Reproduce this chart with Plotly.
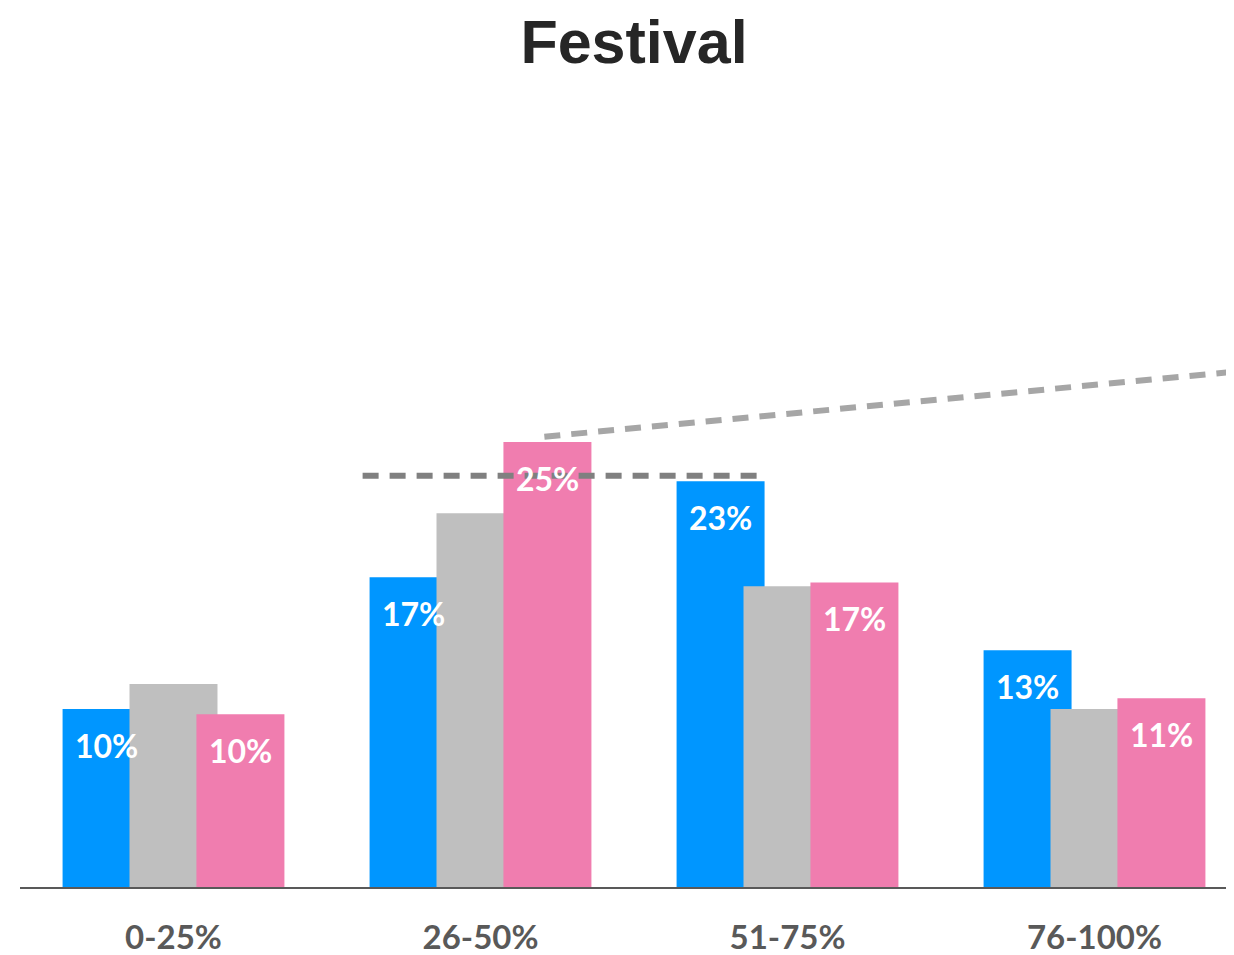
import plotly.graph_objects as go

categories = ["0-25%", "26-50%", "51-75%", "76-100%"]
blue_vals = [10.0, 17.4, 22.8, 13.3]
gray_vals = [11.4, 21.0, 16.9, 10.0]
pink_vals = [9.7, 25.0, 17.1, 10.6]
blue_labels = ["10%", "17%", "23%", "13%"]
pink_labels = ["10%", "25%", "17%", "11%"]

# reference lines (category-axis units, percent values)
flat_line_x = [0.616, 1.932]
flat_line_y = 23.1
slope_line_x = [1.208, 3.6]
slope_line_y = [25.3, 29.18]

BLUE = "#0096FF"
GRAY = "#BFBFBF"
PINK = "#F07DAF"

W = 0.2866
STEP = 0.218

fig = go.Figure()
for vals, color, off in [(blue_vals, BLUE, -STEP), (gray_vals, GRAY, 0.0), (pink_vals, PINK, STEP)]:
    fig.add_trace(go.Bar(
        x=categories, y=vals, width=W, offset=off - W / 2,
        marker=dict(color=color, line=dict(width=0)),
        hoverinfo="skip", showlegend=False,
    ))

annotations = []
for i, (v, t) in enumerate(zip(blue_vals, blue_labels)):
    annotations.append(dict(x=i - STEP, y=v, xref="x", yref="y", text=t, showarrow=False,
                            yshift=-36, font=dict(family="Lato", size=32, color="white", weight="bold")))
for i, (v, t) in enumerate(zip(pink_vals, pink_labels)):
    annotations.append(dict(x=i + STEP, y=v, xref="x", yref="y", text=t, showarrow=False,
                            yshift=-36, font=dict(family="Lato", size=32, color="white", weight="bold")))

shapes = [
    dict(type="line", xref="x", yref="y", x0=flat_line_x[0], x1=flat_line_x[1],
         y0=flat_line_y, y1=flat_line_y, line=dict(color="#808080", width=6, dash="16px,11px")),
    dict(type="line", xref="x", yref="y", x0=slope_line_x[0], x1=slope_line_x[1],
         y0=slope_line_y[0], y1=slope_line_y[1], line=dict(color="#A6A6A6", width=6, dash="16px,11px")),
]

FIG_W = 1226
fig.update_layout(
    width=FIG_W, height=947,
    margin=dict(l=12, r=0, t=92, b=68),
    plot_bgcolor="white", paper_bgcolor="white",
    barmode="overlay",
    title=dict(text="Festival", x=626 / FIG_W, xanchor="center", y=1 - 34 / 947, yanchor="middle",
               font=dict(family="Liberation Sans", size=61, color="#262626", weight="bold")),
    xaxis=dict(range=[-0.5, -0.5 + (FIG_W - 12) / 307], showgrid=False, showline=True,
               linecolor="#595959", linewidth=2, ticks="", ticklabelstandoff=20,
               tickfont=dict(family="Lato", size=33, color="#595959", weight="bold"),
               fixedrange=True),
    yaxis=dict(range=[0, 787 / 17.8], visible=False, fixedrange=True),
    annotations=annotations,
    shapes=shapes,
)

fig.write_html("out.html", config={"displayModeBar": False})
